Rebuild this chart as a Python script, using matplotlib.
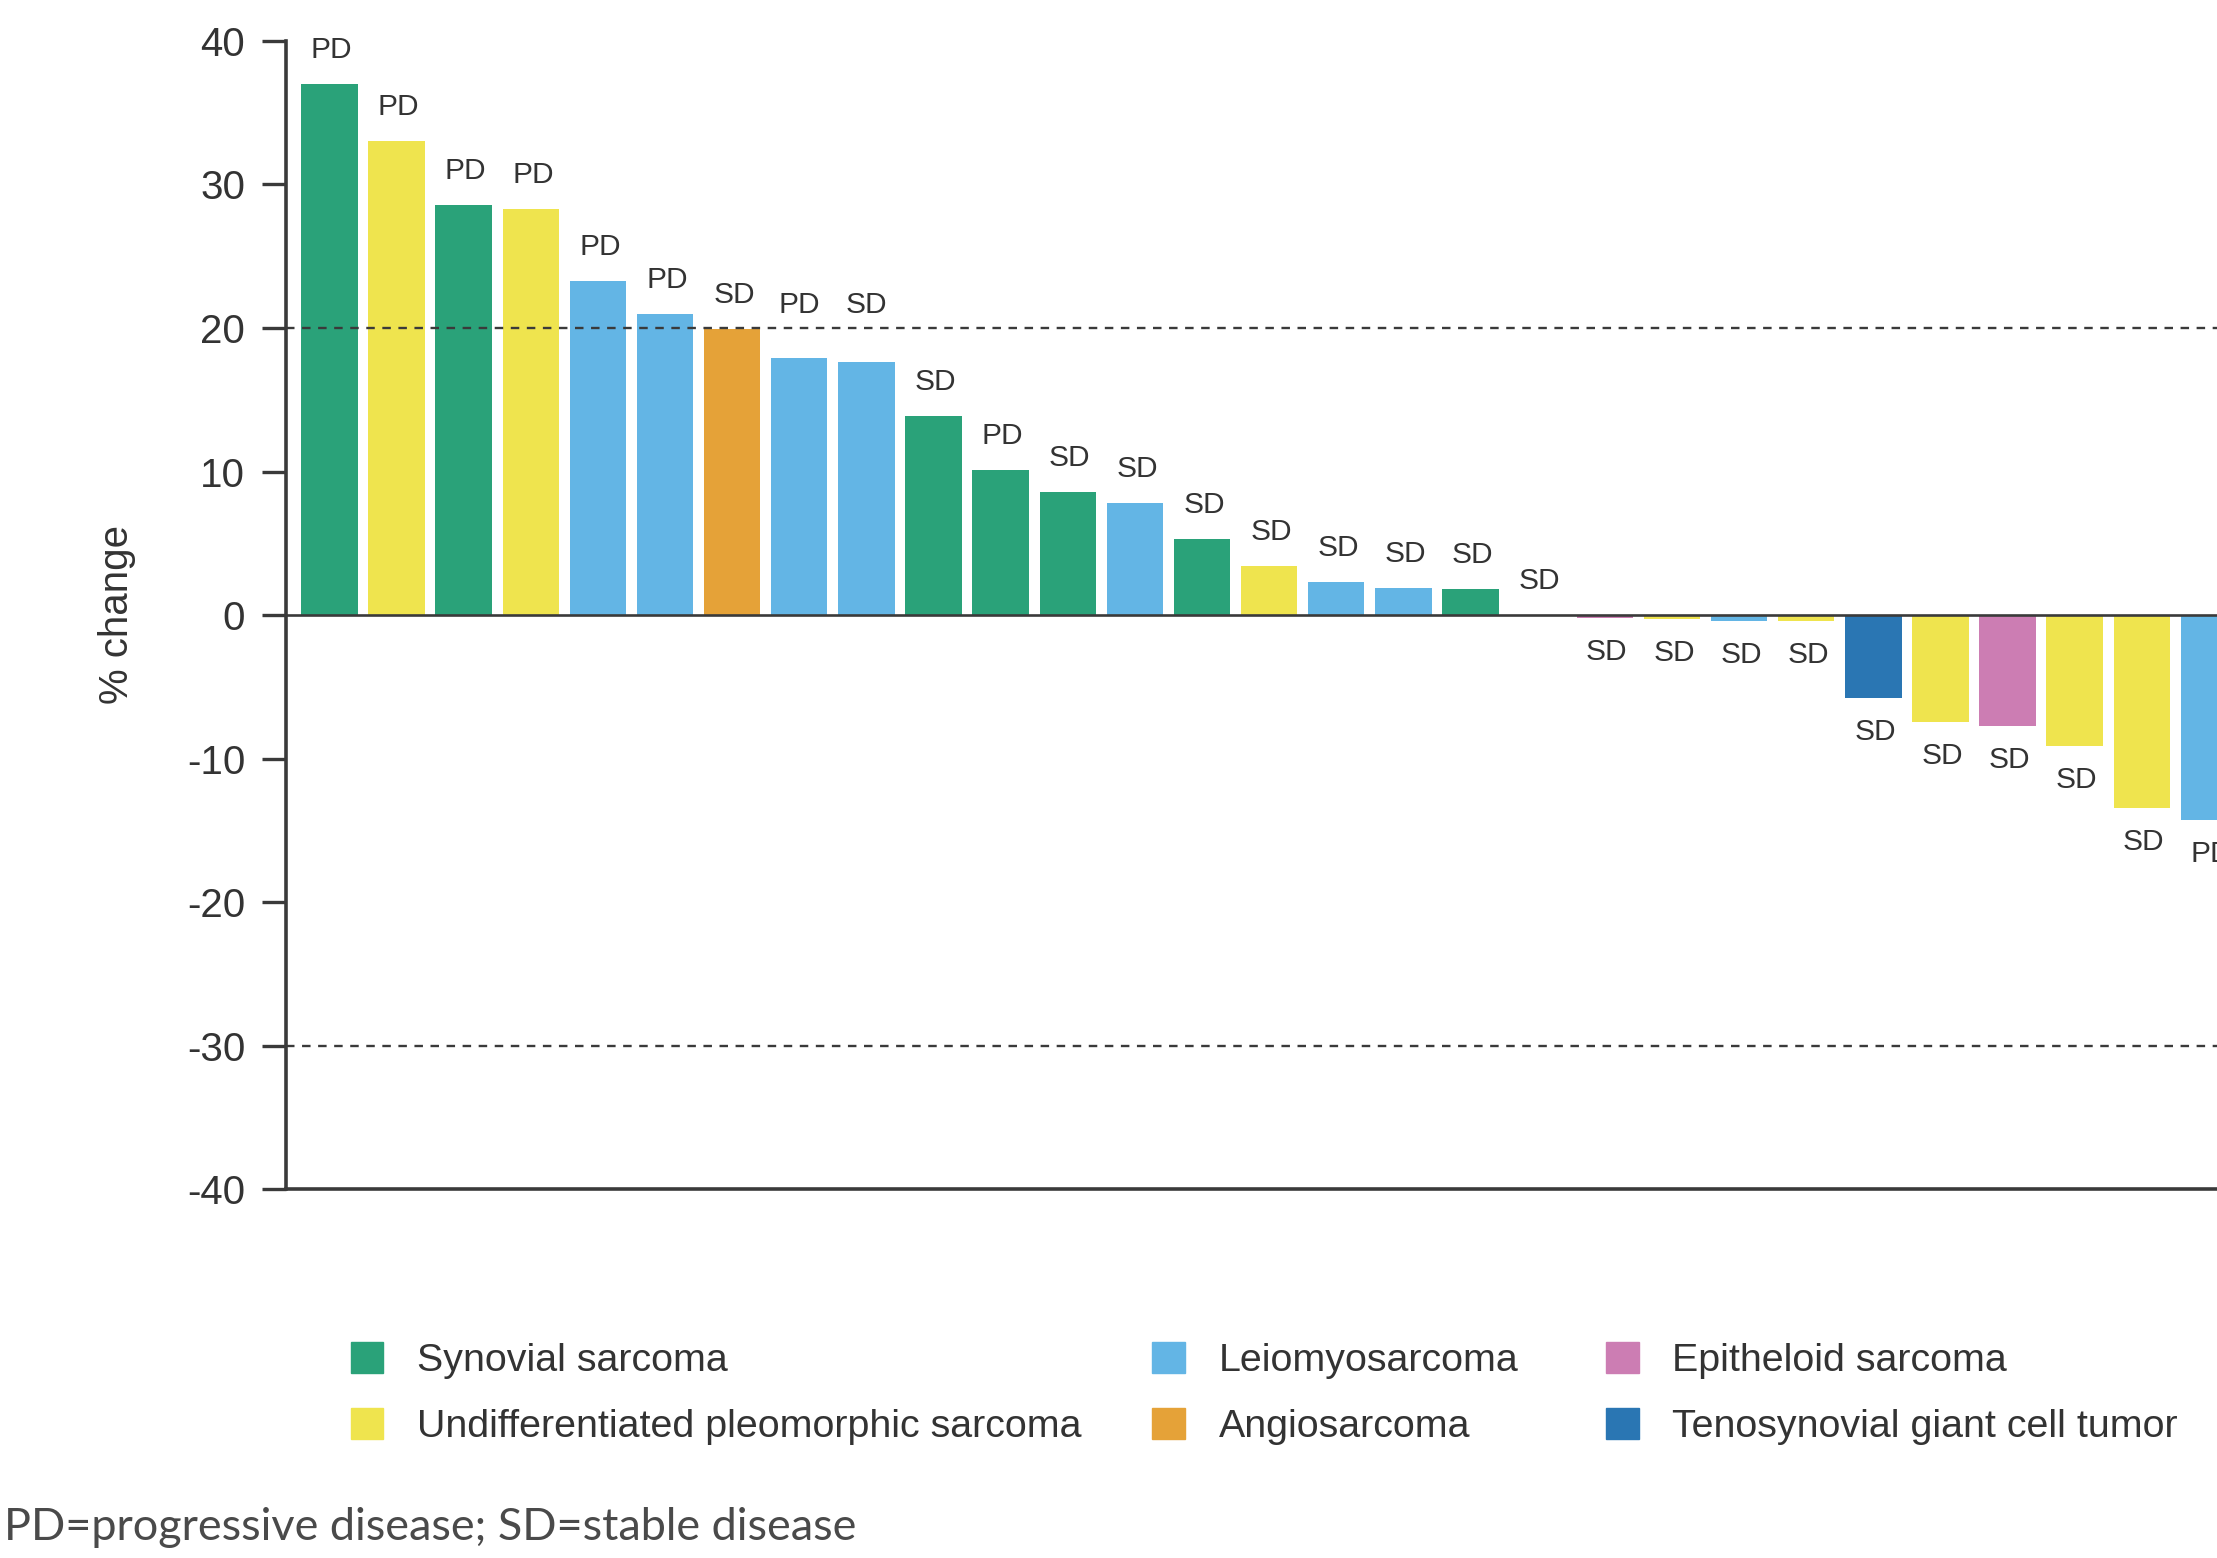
import numpy as np
import matplotlib
matplotlib.use("Agg")
import matplotlib.pyplot as plt
from matplotlib.patches import Patch

plt.rcParams["font.family"] = ["Liberation Sans", "DejaVu Sans"]
plt.rcParams["axes.unicode_minus"] = False

# data (one bar per patient, sorted)
values = [37.0, 33.0, 28.6, 28.3, 23.3, 21.0, 19.9, 17.9, 17.6, 13.9,
          10.1, 8.6, 7.8, 5.3, 3.4, 2.3, 1.9, 1.8, 0.0, -0.2,
          -0.3, -0.4, -0.4, -5.8, -7.45, -7.7, -9.15, -13.45, -14.25]
tumor = ["Synovial sarcoma", "Undifferentiated pleomorphic sarcoma", "Synovial sarcoma",
         "Undifferentiated pleomorphic sarcoma", "Leiomyosarcoma", "Leiomyosarcoma",
         "Angiosarcoma", "Leiomyosarcoma", "Leiomyosarcoma", "Synovial sarcoma",
         "Synovial sarcoma", "Synovial sarcoma", "Leiomyosarcoma", "Synovial sarcoma",
         "Undifferentiated pleomorphic sarcoma", "Leiomyosarcoma", "Leiomyosarcoma",
         "Synovial sarcoma", "Leiomyosarcoma", "Epitheloid sarcoma",
         "Undifferentiated pleomorphic sarcoma", "Leiomyosarcoma",
         "Undifferentiated pleomorphic sarcoma", "Tenosynovial giant cell tumor",
         "Undifferentiated pleomorphic sarcoma", "Epitheloid sarcoma",
         "Undifferentiated pleomorphic sarcoma", "Undifferentiated pleomorphic sarcoma",
         "Leiomyosarcoma"]
response = ["PD", "PD", "PD", "PD", "PD", "PD", "SD", "PD", "SD", "SD",
            "PD", "SD", "SD", "SD", "SD", "SD", "SD", "SD", "SD", "SD",
            "SD", "SD", "SD", "SD", "SD", "SD", "SD", "SD", "PD"]

colors = {
    "Synovial sarcoma": "#2aa279",
    "Undifferentiated pleomorphic sarcoma": "#efe44e",
    "Leiomyosarcoma": "#63b5e5",
    "Angiosarcoma": "#e5a238",
    "Epitheloid sarcoma": "#cc7db3",
    "Tenosynovial giant cell tumor": "#2a76b3",
}
legend_cols = [["Synovial sarcoma", "Undifferentiated pleomorphic sarcoma"],
               ["Leiomyosarcoma", "Angiosarcoma"],
               ["Epitheloid sarcoma", "Tenosynovial giant cell tumor"]]

dark = "#3a3a3a"
fig = plt.figure(figsize=(22.17, 15.58), dpi=100)
ax = fig.add_axes([0.1288, 0.2368, 0.8712, 0.7369])

x = np.arange(len(values))
bars = ax.bar(x, values, 0.84, color=[colors[t] for t in tumor], zorder=2)

for i in x:
    v = values[i]
    if 15 < v < 19.5:
        # keep the label clear of the 20% reference line
        ax.annotate(response[i], xy=(x[i], 21.6), ha="center", va="center",
                    fontsize=21.5, color="#333333")
        continue
    off = 24.5 if v >= 0 else -24.5
    ax.annotate(response[i], xy=(x[i], v), xytext=(1.5, off), textcoords="offset points",
                ha="center", va="center", fontsize=21.5, color="#333333")

ax.axhline(0, color=dark, lw=1.9, zorder=3)
ax.axhline(20, color=dark, lw=1.7, ls=(0, (3.6, 3.2)), zorder=3)
ax.axhline(-30, color=dark, lw=1.7, ls=(0, (3.6, 3.2)), zorder=3)

ax.set_xlim(-0.653, 28.12)
ax.set_ylim(-40, 40)
ax.set_yticks(np.arange(-40, 41, 10))
ax.set_xticks([])
for s in ["top", "right"]:
    ax.spines[s].set_visible(False)
for s in ["left", "bottom"]:
    ax.spines[s].set_color(dark)
    ax.spines[s].set_linewidth(2.6)
ax.tick_params(axis="y", length=17, width=2.4, pad=12, labelsize=29,
               color=dark, labelcolor="#333333")

fig.text(0.0528, 0.6053, "% change", rotation=90, ha="center", va="center",
         fontsize=29, color="#333333")

# legend, three columns placed separately
col_x = [0.1582, 0.5198, 0.7245]
for cx, names in zip(col_x, legend_cols):
    handles = [Patch(color=colors[n], label=n) for n in names]
    fig.legend(handles=handles, loc="center left", bbox_to_anchor=(cx, 0.1055),
               frameon=False, fontsize=28.4, handlelength=0.82, handleheight=0.82,
               handletextpad=0.86, labelspacing=0.72, borderpad=0, borderaxespad=0,
               labelcolor="#333333")

fig.text(0.002, 1 - 1528 / 1558, "PD=progressive disease; SD=stable disease",
         ha="left", va="center", fontsize=32.4, color="#4a4a4a", family=["Lato", "DejaVu Sans"])

fig.savefig("out.png", dpi=100)
